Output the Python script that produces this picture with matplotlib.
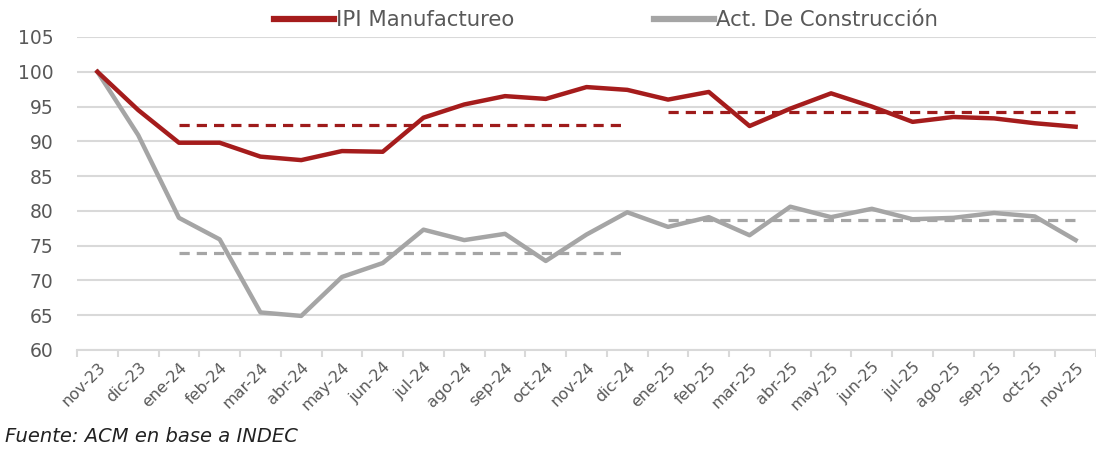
import matplotlib
matplotlib.use("Agg")
import matplotlib.pyplot as plt
import numpy as np

categories = ["nov-23", "dic-23", "ene-24", "feb-24", "mar-24", "abr-24", "may-24",
              "jun-24", "jul-24", "ago-24", "sep-24", "oct-24", "nov-24", "dic-24",
              "ene-25", "feb-25", "mar-25", "abr-25", "may-25", "jun-25", "jul-25",
              "ago-25", "sep-25", "oct-25", "nov-25"]

ipi = [100.0, 94.5, 89.8, 89.8, 87.8, 87.3, 88.6, 88.5, 93.4, 95.3, 96.5, 96.1,
       97.8, 97.4, 96.0, 97.1, 92.2, 94.7, 96.9, 95.0, 92.8, 93.5, 93.3, 92.6, 92.1]

construccion = [100.0, 90.9, 79.0, 75.9, 65.4, 64.9, 70.5, 72.5, 77.3, 75.8, 76.7,
                72.8, 76.6, 79.8, 77.7, 79.1, 76.5, 80.6, 79.1, 80.3, 78.8, 79.0,
                79.7, 79.2, 75.8]

# Period averages (dashed lines)
ipi_avg_2024 = 92.4
ipi_avg_2025 = 94.2
con_avg_2024 = 74.0
con_avg_2025 = 78.7
period_2024 = ("ene-24", "dic-24")
period_2025 = ("ene-25", "nov-25")

red = "#A51C1C"
red_dash = "#9E1B1B"
gray = "#A5A5A5"
text_col = "#595959"
grid_col = "#D9D9D9"

fig = plt.figure(figsize=(10.96, 4.49), dpi=100)
ax = fig.add_axes([0.0703, 0.2205, 0.9297, 0.6971])

x = np.arange(len(categories))
ax.plot(x, ipi, color=red, lw=3.2, solid_joinstyle="round", zorder=4,
        label="IPI Manufactureo")
ax.plot(x, construccion, color=gray, lw=3.2, solid_joinstyle="round", zorder=3,
        label="Act. De Construcción")

def idx(c):
    return categories.index(c)

for (a, b), v_r, v_g in [(period_2024, ipi_avg_2024, con_avg_2024),
                         (period_2025, ipi_avg_2025, con_avg_2025)]:
    xs = [idx(a), idx(b)]
    ax.plot(xs, [v_r, v_r], color=red_dash, lw=2.3, dashes=(3.2, 2.2), zorder=2)
    ax.plot(xs, [v_g, v_g], color=gray, lw=2.3, dashes=(3.2, 2.2), zorder=2)

ax.set_xlim(-0.5, len(categories) - 0.5)
ax.set_ylim(60, 105)
ax.set_yticks(np.arange(60, 106, 5))
ax.yaxis.grid(True, color=grid_col, lw=1.5)
ax.set_axisbelow(True)

for s in ["top", "right", "left"]:
    ax.spines[s].set_visible(False)
ax.spines["bottom"].set_color(grid_col)
ax.spines["bottom"].set_linewidth(1.5)

ax.set_xticks(x)
ax.set_xticklabels(categories, rotation=45, ha="right", rotation_mode="anchor",
                   fontsize=11.5, color=text_col)
ax.set_xticks(np.arange(-0.5, len(categories), 1), minor=True)
ax.tick_params(axis="x", which="major", length=0, pad=7)
ax.tick_params(axis="x", which="minor", length=5, color=grid_col, width=1.5)
ax.tick_params(axis="y", which="major", length=0, labelsize=13.5, labelcolor=text_col, pad=17)

leg = ax.legend(loc="center", bbox_to_anchor=(0.553, 0.955), bbox_transform=fig.transFigure,
                ncol=2, frameon=False, fontsize=15.3, handlelength=2.8,
                handletextpad=0.1, columnspacing=6.6)
for t in leg.get_texts():
    t.set_color(text_col)
for h in leg.get_lines():
    h.set_linewidth(4.5)

fig.text(0.005, 0.027, "Fuente: ACM en base a INDEC", fontsize=14, style="italic",
         color="#222222", ha="left", va="center")

fig.savefig("out.png", dpi=100, facecolor="white")
